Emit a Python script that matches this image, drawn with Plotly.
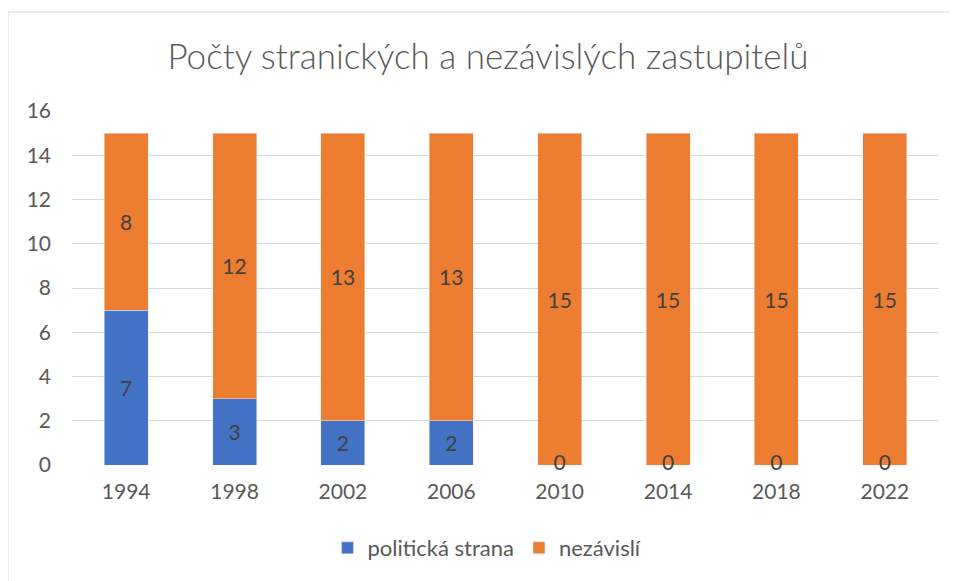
import plotly.graph_objects as go

years = ["1994", "1998", "2002", "2006", "2010", "2014", "2018", "2022"]
strana = [7, 3, 2, 2, 0, 0, 0, 0]
nezavisli = [8, 12, 13, 13, 15, 15, 15, 15]
y_ticks = [0, 2, 4, 6, 8, 10, 12, 14, 16]

FONT = "Lato"
LBL = 21
fig = go.Figure()
fig.add_trace(go.Bar(
    x=years, y=strana, name="politická strana", marker_color="#4472C4",
    text=[str(v) if v else "" for v in strana], textposition="inside",
    insidetextanchor="middle", textangle=0,
    textfont=dict(family=FONT, size=LBL, color="#404040"),
))
fig.add_trace(go.Bar(
    x=years, y=nezavisli, name="nezávislí", marker_color="#ED7D31",
    text=[str(v) for v in nezavisli], textposition="inside",
    insidetextanchor="middle", textangle=0,
    textfont=dict(family=FONT, size=LBL, color="#404040"),
))
zx = [y for y, v in zip(years, strana) if v == 0]
fig.add_trace(go.Scatter(
    x=zx, y=[0] * len(zx), mode="text", text=["0"] * len(zx),
    textposition="middle center", showlegend=False, hoverinfo="skip", cliponaxis=False,
    textfont=dict(family=FONT, size=LBL, color="#404040"),
))

# body margin of the page offsets the figure by 8px
W, H = 957, 581
l, r, t, b = 64, 26, 103, 124
pw, ph = W - l - r, H - t - b
fig.add_shape(type="rect", xref="paper", yref="paper",
              x0=(0 - l) / pw, x1=(990 - l) / pw,
              y0=-(620 - (H - b)) / ph, y1=((H - b) - 4) / ph,
              line=dict(color="#D9D9D9", width=1), fillcolor="rgba(0,0,0,0)", layer="below")

fig.update_layout(
    width=W, height=H, barmode="stack", bargap=0.594,
    margin=dict(l=l, r=r, t=t, b=b),
    paper_bgcolor="white", plot_bgcolor="white",
    font=dict(family=FONT, color="#595959", size=LBL),
    title=dict(text="Počty stranických a nezávislých zastupitelů", x=(488 - 8) / W, xanchor="center",
               y=1 - 49 / H, yanchor="middle",
               font=dict(family=FONT, size=35, color="#595959", weight=300)),
    xaxis=dict(showgrid=False, showline=False, ticks="", tickfont=dict(size=LBL, color="#595959"),
               ticklabelstandoff=12),
    yaxis=dict(range=[0, 16], tickvals=y_ticks, showgrid=True, gridcolor="#D9D9D9", gridwidth=1,
               zeroline=False, showline=False, ticks="", tickfont=dict(size=LBL, color="#595959"),
               ticklabelstandoff=20),
    legend=dict(orientation="h", x=(487 - 8 - l) / pw, xanchor="center", y=-(540 - (H - b)) / ph,
                yanchor="middle", font=dict(size=22, color="#595959"), traceorder="normal"),
)
fig.write_html("out.html")
